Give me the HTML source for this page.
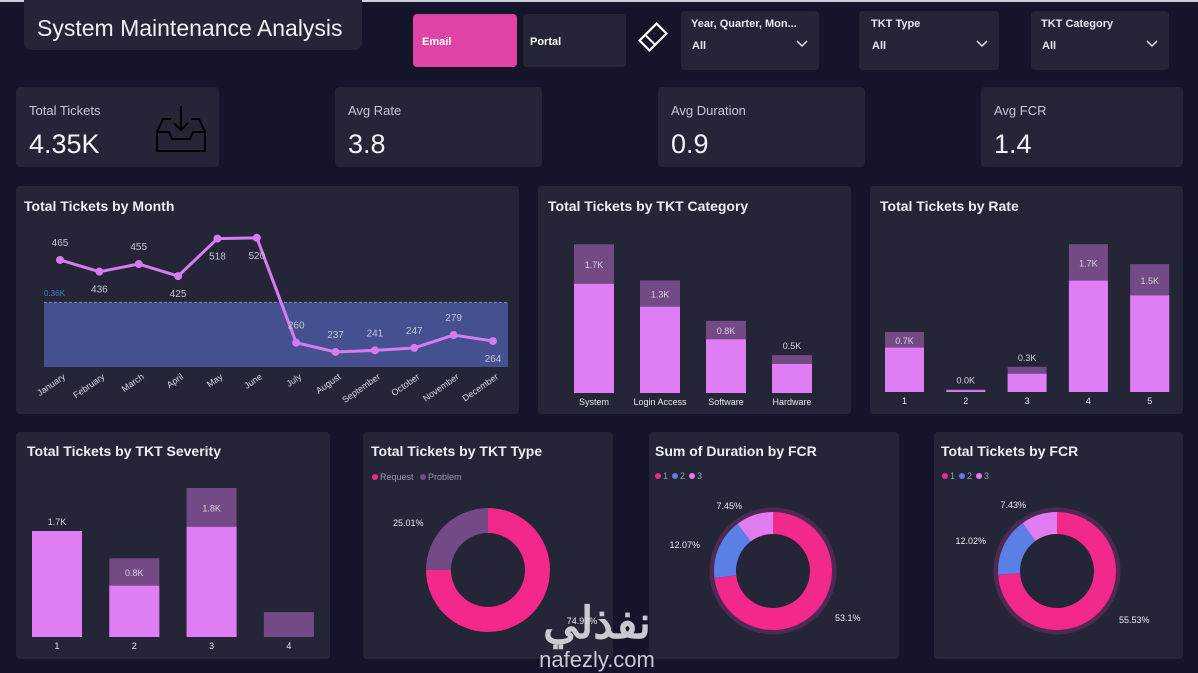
<!DOCTYPE html>
<html><head><meta charset="utf-8">
<style>
html,body{margin:0;padding:0;width:1198px;height:673px;overflow:hidden;background:#14152a;font-family:"Liberation Sans","Noto Sans CJK SC",sans-serif;}
svg{display:block}
text{font-family:"Liberation Sans","Noto Sans CJK SC",sans-serif;}
</style></head><body>
<svg id="s" width="1198" height="673" viewBox="0 0 1198 673" xmlns="http://www.w3.org/2000/svg">
<rect x="0" y="0" width="1198" height="673" fill="#14152a"/>
<rect x="0" y="0" width="1198" height="2" fill="#cfd0da"/>
<!-- header -->
<rect x="24" y="-8" width="338" height="58" rx="8" fill="#242536"/>
<text x="37" y="36" font-size="23" fill="#eef0f6">System Maintenance Analysis</text>
<rect x="413" y="14" width="104" height="53" rx="4" fill="#e043a6"/>
<text x="422" y="45" font-size="11" font-weight="bold" fill="#fff">Email</text>
<rect x="523" y="14" width="103" height="53" rx="4" fill="#242536"/>
<text x="530" y="45" font-size="11" font-weight="bold" fill="#fff">Portal</text>
<g transform="translate(653,37) rotate(-45)">
<rect x="-12" y="-7" width="24" height="14" fill="none" stroke="#fff" stroke-width="2.2"/>
<line x1="-4" y1="-7" x2="-4" y2="7" stroke="#fff" stroke-width="2"/>
</g>
<g>
<rect x="681" y="11" width="138" height="59" rx="4" fill="#242536"/>
<text x="691" y="27" font-size="11" font-weight="bold" fill="#e8e8f0">Year, Quarter, Mon...</text>
<text x="692" y="49" font-size="11" font-weight="bold" fill="#e8e8f0">All</text>
<path d="M797 41 L802 46 L807 41" fill="none" stroke="#e8e8f0" stroke-width="1.5"/>
</g>
<g>
<rect x="859" y="11" width="140" height="59" rx="4" fill="#242536"/>
<text x="871" y="27" font-size="11" font-weight="bold" fill="#e8e8f0">TKT Type</text>
<text x="872" y="49" font-size="11" font-weight="bold" fill="#e8e8f0">All</text>
<path d="M977 41 L982 46 L987 41" fill="none" stroke="#e8e8f0" stroke-width="1.5"/>
</g>
<g>
<rect x="1031" y="11" width="138" height="59" rx="4" fill="#242536"/>
<text x="1041" y="27" font-size="11" font-weight="bold" fill="#e8e8f0">TKT Category</text>
<text x="1042" y="49" font-size="11" font-weight="bold" fill="#e8e8f0">All</text>
<path d="M1147 41 L1152 46 L1157 41" fill="none" stroke="#e8e8f0" stroke-width="1.5"/>
</g>
<!-- KPI -->
<g>
<rect x="16" y="87" width="203" height="80" rx="4" fill="#242536"/>
<text x="29" y="115" font-size="13" fill="#c8c8d4">Total Tickets</text>
<text x="29" y="153" font-size="27" fill="#f2f2f6">4.35K</text>
<g fill="none" stroke="#000" stroke-width="2" stroke-linejoin="round">
<path d="M171 119 L163 119 L157 132 L157 151 L205 151 L205 132 L199 119 L191 119"/>
<path d="M157 132 L169 132 L172 139 L190 139 L193 132 L205 132"/>
<path d="M181 106 L181 130 M174 123 L181 130 L188 123"/>
</g>
</g>
<g>
<rect x="335" y="87" width="207" height="80" rx="4" fill="#242536"/>
<text x="348" y="115" font-size="13" fill="#c8c8d4">Avg Rate</text>
<text x="348" y="153" font-size="27" fill="#f2f2f6">3.8</text>
</g>
<g>
<rect x="658" y="87" width="207" height="80" rx="4" fill="#242536"/>
<text x="671" y="115" font-size="13" fill="#c8c8d4">Avg Duration</text>
<text x="671" y="153" font-size="27" fill="#f2f2f6">0.9</text>
</g>
<g>
<rect x="981" y="87" width="202" height="80" rx="4" fill="#242536"/>
<text x="994" y="115" font-size="13" fill="#c8c8d4">Avg FCR</text>
<text x="994" y="153" font-size="27" fill="#f2f2f6">1.4</text>
</g>
<!-- cards -->
<rect x="16" y="186" width="503" height="228" rx="4" fill="#242536"/>
<text x="24" y="211" font-size="14" font-weight="bold" fill="#eceef4">Total Tickets by Month</text>
<rect x="538" y="186" width="313" height="228" rx="4" fill="#242536"/>
<text x="548" y="211" font-size="14" font-weight="bold" fill="#eceef4">Total Tickets by TKT Category</text>
<rect x="870" y="186" width="313" height="228" rx="4" fill="#242536"/>
<text x="880" y="211" font-size="14" font-weight="bold" fill="#eceef4">Total Tickets by Rate</text>
<rect x="16" y="432" width="314" height="227" rx="4" fill="#242536"/>
<text x="27" y="456" font-size="14" font-weight="bold" fill="#eceef4">Total Tickets by TKT Severity</text>
<rect x="363" y="432" width="250" height="227" rx="4" fill="#242536"/>
<text x="371" y="456" font-size="14" font-weight="bold" fill="#eceef4">Total Tickets by TKT Type</text>
<rect x="649" y="432" width="250" height="227" rx="4" fill="#242536"/>
<text x="655" y="456" font-size="14" font-weight="bold" fill="#eceef4">Sum of Duration by FCR</text>
<rect x="934" y="432" width="249" height="227" rx="4" fill="#242536"/>
<text x="941" y="456" font-size="14" font-weight="bold" fill="#eceef4">Total Tickets by FCR</text>
<!-- legends -->
<g font-size="9" fill="#9a9aaa">
<circle cx="375" cy="477" r="3" fill="#f2288a"/><text x="380" y="480">Request</text>
<circle cx="423" cy="477" r="3" fill="#7a4a86"/><text x="428" y="480">Problem</text>
</g>
<g font-size="9" fill="#9a9aaa">
<circle cx="658" cy="476" r="3" fill="#f2288a"/><text x="663" y="479">1</text>
<circle cx="675" cy="476" r="3" fill="#5a7fe6"/><text x="680" y="479">2</text>
<circle cx="692" cy="476" r="3" fill="#e07cf0"/><text x="697" y="479">3</text>
</g>
<g font-size="9" fill="#9a9aaa">
<circle cx="945" cy="476" r="3" fill="#f2288a"/><text x="950" y="479">1</text>
<circle cx="962" cy="476" r="3" fill="#5a7fe6"/><text x="967" y="479">2</text>
<circle cx="979" cy="476" r="3" fill="#e07cf0"/><text x="984" y="479">3</text>
</g>
<g id="dyn"></g>
<g fill="#dcdce4" opacity="0.9">
<text x="597" y="638" font-size="44" font-weight="bold" text-anchor="middle" font-family="'DejaVu Sans',sans-serif">نفذلي</text>
<text x="597" y="667" font-size="22" text-anchor="middle" font-family="'DejaVu Sans',sans-serif">nafezly.com</text>
</g>
</svg>
<script>
const months=["January","February","March","April","May","June","July","August","September","October","November","December"];
const monthValues=[465,436,455,425,518,520,260,237,241,247,279,264];
const monthAvg=360;
const catNames=["System","Login Access","Software","Hardware"];
const catTotal=[1.69,1.28,0.82,0.43];
const catEmail=[1.24,0.98,0.61,0.33];
const catLabels=["1.7K","1.3K","0.8K","0.5K"];
const rateNames=["1","2","3","4","5"];
const rateTotal=[0.69,0.03,0.29,1.70,1.47];
const rateEmail=[0.51,0.02,0.21,1.28,1.11];
const rateLabels=["0.7K","0.0K","0.3K","1.7K","1.5K"];
const sevNames=["1","2","3","4"];
const sevTotal=[1.28,0.95,1.80,0.30];
const sevEmail=[1.28,0.62,1.33,0];
const sevLabels=["1.7K","0.8K","1.8K",""];
const typeValues=[74.99,25.01];
const typeLabels=["74.99%","25.01%"];
const durFcr=[53.1,12.07,7.45];
const durFcrLabels=["53.1%","12.07%","7.45%"];
const tktFcr=[55.53,12.02,7.43];
const tktFcrLabels=["55.53%","12.02%","7.43%"];

const NS="http://www.w3.org/2000/svg";
const dyn=document.getElementById('dyn');
function mk(tag,attrs,parent){const e=document.createElementNS(NS,tag);for(const k in attrs)e.setAttribute(k,attrs[k]);(parent||dyn).appendChild(e);return e;}
function txt(x,y,s,size,fill,anchor,parent){const t=mk('text',{x:x,y:y,'font-size':size,fill:fill,'text-anchor':anchor||'middle'},parent);t.textContent=s;return t;}

// Month line chart
(function(){
  const g=mk('g',{});
  
  
  const x=i=>60+i*(493-60)/(months.length-1);
  const y=v=>447.6-v*0.4035;
  const band=mk('rect',{x:44,y:y(monthAvg),width:464,height:367-y(monthAvg),fill:'#44508f'},g);
  
  
  mk('line',{x1:44,x2:508,y1:y(monthAvg),y2:y(monthAvg),stroke:'#7f88b8','stroke-dasharray':'3,2'},g);
  txt(44,296,(monthAvg/1000).toFixed(2)+"K",8,'#3d7fd6','start',g);
  let d='';
  monthValues.forEach((v,i)=>{d+=(i?'L':'M')+x(i)+' '+y(v)+' ';});
  const p=mk('path',{d:d,fill:'none',stroke:'#d77cf0','stroke-width':3},g);
  
  
  const below=[false,true,false,true,true,true,false,false,false,false,false,true];
  monthValues.forEach((v,i)=>{
    const c=mk('circle',{cx:x(i),cy:y(v),r:4,fill:'#d77cf0'},g);
    
    
    const ly=below[i]?y(v)+21:y(v)-14;
    txt(x(i),ly,String(v),10,'#c6c6d2','middle',g);
    const t=mk('text',{x:x(i)+6,y:378,'font-size':9,fill:'#d8d8e2','text-anchor':'end',transform:'rotate(-35 '+(x(i)+6)+' 378)'},g);
    t.textContent=months[i];
  });
})();

function stackBars(name,names,total,email,labels,x0,step,w,base,scale){
  const g=mk('g',{});
  
  
  names.forEach((n,i)=>{
    const x=x0+i*step;
    const ht=total[i]*scale, he=email[i]*scale;
    const r1=mk('rect',{x:x,y:base-ht,width:w,height:ht,fill:'#734a86'},g);
    
    
    const r2=mk('rect',{x:x,y:base-he,width:w,height:he,fill:'#df7df5'},g);
    
    
    const ly = (ht-he>14)? (base-ht+(ht-he)/2+4) : (base-ht-6);
    if(labels[i]) txt(x+w/2,ly,labels[i],9,'#d4d4de','middle',g);
    txt(x+w/2,base+12,n,9,'#e8e8f0','middle',g);
  });
}
stackBars('category-bar-chart',catNames,catTotal,catEmail,catLabels,574,66,40,393,88);
stackBars('rate-bar-chart',rateNames,rateTotal,rateEmail,rateLabels,885,61.3,39,392,87);
stackBars('severity-bar-chart',sevNames,sevTotal,sevEmail,sevLabels,32,77.3,50,637,82.8);

function donut(name,cx,cy,ro,ri,vals,labels,colors,labelPos,ring){
  const g=mk('g',{});
  
  
  if(ring){mk('circle',{cx:cx,cy:cy,r:ro+2,fill:'none',stroke:'#4e2a52','stroke-width':5},g);}
  const sum=vals.reduce((a,b)=>a+b,0);
  let a=0;
  vals.forEach((v,i)=>{
    const a0=a, a1=a+v/sum*2*Math.PI; a=a1;
    const pt=(r,t)=>[cx+r*Math.sin(t),cy-r*Math.cos(t)];
    const large=(a1-a0)>Math.PI?1:0;
    const [x1,y1]=pt(ro,a0),[x2,y2]=pt(ro,a1),[x3,y3]=pt(ri,a1),[x4,y4]=pt(ri,a0);
    const p=mk('path',{d:`M${x1} ${y1} A${ro} ${ro} 0 ${large} 1 ${x2} ${y2} L${x3} ${y3} A${ri} ${ri} 0 ${large} 0 ${x4} ${y4} Z`,fill:colors[i]},g);
    
    
    const lp=labelPos[i];
    txt(lp[0],lp[1],labels[i],9,'#ececf2',lp[2],g);
  });
}
donut('type-donut',488,570,62,37,typeValues,typeLabels,['#f2288a','#734a86'],[[582,624,'middle'],[393,526,'start']],false);
donut('duration-fcr-donut',773,571,59,37,durFcr,durFcrLabels,['#f2288a','#5a7fe6','#e07cf0'],[[835,621,'start'],[700,548,'end'],[742,509,'end']],true);
donut('tickets-fcr-donut',1057,571,59,37,tktFcr,tktFcrLabels,['#f2288a','#5a7fe6','#e07cf0'],[[1119,623,'start'],[986,544,'end'],[1026,508,'end']],true);
</script>
</body></html>
